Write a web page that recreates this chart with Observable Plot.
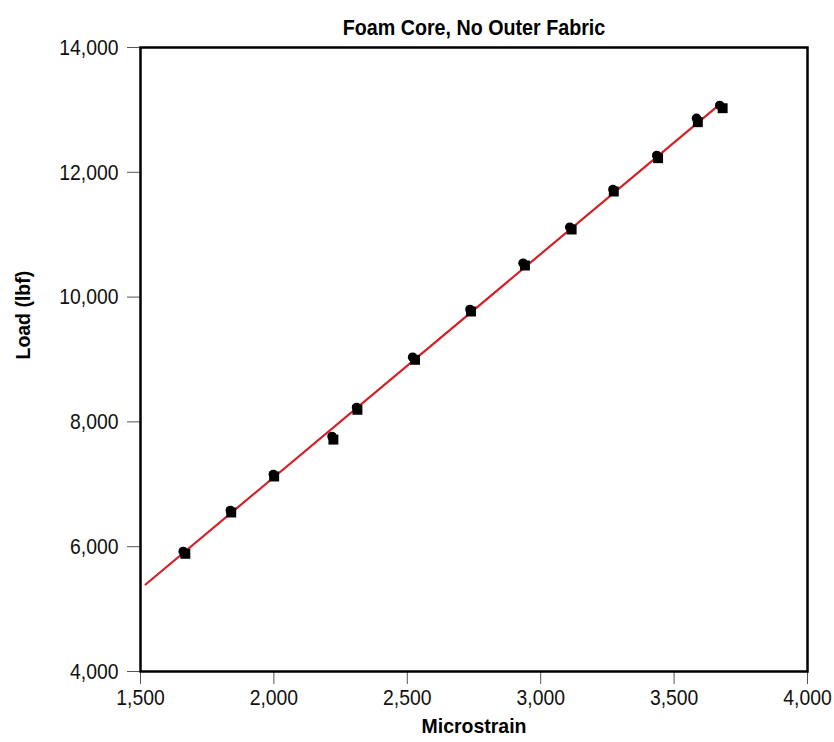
<!DOCTYPE html>
<html>
<head>
<meta charset="utf-8">
<script src="https://cdn.jsdelivr.net/npm/d3@7"></script>
<script src="https://cdn.jsdelivr.net/npm/@observablehq/plot@0.6"></script>
<style>
  html, body { margin: 0; padding: 0; background: #fff; }
  #chart svg { display: block; }
</style>
</head>
<body>
<div id="chart"></div>
<script>
// Series A (squares)
const squareStrain = [1668, 1840, 2001, 2223, 2313, 2529, 2739, 2941, 3116, 3274, 3440, 3589, 3682];
const squareLoad   = [5886, 6548, 7125, 7716, 8194, 8995, 9769, 10506, 11083, 11692, 12226, 12803, 13027];
// Series B (circles)
const circleStrain = [1660, 1837, 1998, 2218, 2310, 2520, 2735, 2934, 3109, 3271, 3435, 3584, 3671];
const circleLoad   = [5923, 6580, 7157, 7766, 8231, 9037, 9801, 10543, 11120, 11724, 12269, 12865, 13071];
// Fit line endpoints
const fitStrain = [1519, 3671];
const fitLoad   = [5394, 13090];

const xTicks = [1500, 2000, 2500, 3000, 3500, 4000];
const yTicks = [4000, 6000, 8000, 10000, 12000, 14000];

const titleText = "Foam Core, No Outer Fabric";
const xLabel = "Microstrain";
const yLabel = "Load (lbf)";

const squares = squareStrain.map((x, i) => ({x, y: squareLoad[i]}));
const circles = circleStrain.map((x, i) => ({x, y: circleLoad[i]}));
const fit = fitStrain.map((x, i) => ({x, y: fitLoad[i]}));

const fmt = d3.format(",");
const font = "'Liberation Sans Narrow', 'Arial Narrow', 'Liberation Sans', Arial, sans-serif";

const chart = Plot.plot({
  width: 834,
  height: 742,
  marginLeft: 140,
  marginRight: 27,
  marginTop: 47,
  marginBottom: 71,
  style: {fontFamily: font, fontSize: "22px", background: "#fff", color: "#111"},
  x: {domain: [1500, 4000]},
  y: {domain: [4000, 14000]},
  marks: [
    Plot.axisX(xTicks, {tickSize: 13, tickPadding: 5, tickFormat: fmt, label: null, stroke: "#555", fontSize: 22.5}),
    Plot.axisY(yTicks, {tickSize: 13, tickPadding: 9, tickFormat: fmt, label: null, stroke: "#555", fontSize: 22.5}),
    Plot.line(fit, {x: "x", y: "y", stroke: "#d42027", strokeWidth: 2.2}),
    Plot.dot(circles, {x: "x", y: "y", r: 4.8, fill: "#000", stroke: "none", symbol: "circle"}),
    Plot.dot(squares, {x: "x", y: "y", r: 5.6, fill: "#000", stroke: "none", symbol: "square"}),
    Plot.frame({stroke: "#000", strokeWidth: 2.5}),
    Plot.text([titleText], {frameAnchor: "top", dy: -28, text: d => d, fontWeight: "bold", fontSize: 22, fill: "#000"}),
    Plot.text([xLabel], {frameAnchor: "bottom", dy: 61, text: d => d, fontWeight: "bold", fontSize: 20.5, fill: "#000"}),
    Plot.text([yLabel], {frameAnchor: "left", dx: -117, rotate: -90, text: d => d, fontWeight: "bold", fontSize: 20.5, fill: "#000"})
  ]
});
document.getElementById("chart").appendChild(chart);

// Condense text horizontally to mimic the narrow face of the original
function condense(el, k) {
  const len = el.getComputedTextLength();
  el.setAttribute("textLength", (len * k).toFixed(2));
  el.setAttribute("lengthAdjust", "spacingAndGlyphs");
}
chart.querySelectorAll('g[aria-label="x-axis tick label"] text, g[aria-label="y-axis tick label"] text')
  .forEach(t => condense(t, 0.86));
chart.querySelectorAll("text").forEach(t => {
  if (t.textContent === titleText) condense(t, 0.895);
  if (t.textContent === yLabel) condense(t, 0.95);
  if (t.textContent === xLabel) condense(t, 0.95);
});
</script>
</body>
</html>
